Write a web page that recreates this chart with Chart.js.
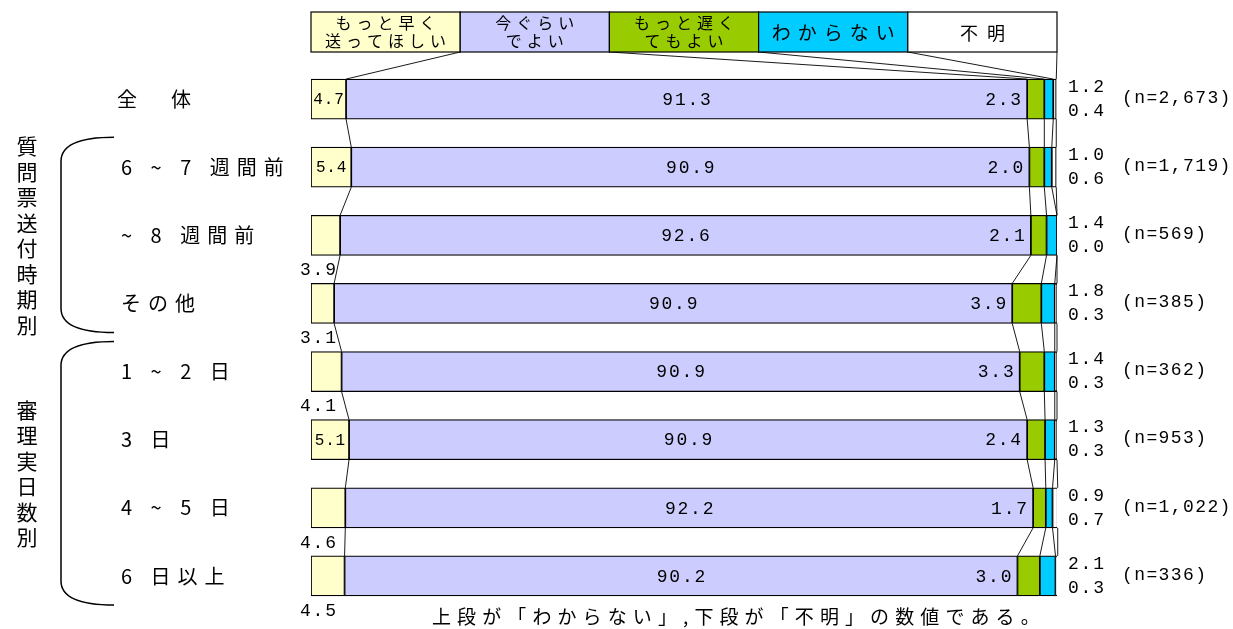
<!DOCTYPE html>
<html lang="ja">
<head>
<meta charset="UTF-8">
<title>送付時期の希望</title>
<script src="https://cdn.jsdelivr.net/npm/chart.js"></script>
<style>
  html, body { margin: 0; padding: 0; background: #fff; }
  #wrap { width: 1233px; height: 629px; }
</style>
</head>
<body>
<div id="wrap"><canvas id="chart" width="1233" height="629"></canvas></div>
<script>
// データ
const categories = ['全　体', '6 ~ 7 週間前', '~ 8 週間前', 'その他', '1 ~ 2 日', '3 日', '4 ~ 5 日', '6 日以上'];
const seriesNames = ['もっと早く送ってほしい', '今ぐらいでよい', 'もっと遅くてもよい', 'わからない', '不明'];
const legendLines = [['もっと早く', '送ってほしい'], ['今ぐらい', 'でよい'], ['もっと遅く', 'てもよい'], ['わからない'], ['不明']];
const earlier  = [4.7, 5.4, 3.9, 3.1, 4.1, 5.1, 4.6, 4.5];
const asIs     = [91.3, 90.9, 92.6, 90.9, 90.9, 90.9, 92.2, 90.2];
const later    = [2.3, 2.0, 2.1, 3.9, 3.3, 2.4, 1.7, 3.0];
const unknown  = [1.2, 1.0, 1.4, 1.8, 1.4, 1.3, 0.9, 2.1];
const noAnswer = [0.4, 0.6, 0.0, 0.3, 0.3, 0.3, 0.7, 0.3];
const sampleSizes = ['2,673', '1,719', '569', '385', '362', '953', '1,022', '336'];
const groups = [
  { label: '質問票送付時期別', from: 1, to: 3 },
  { label: '審理実日数別', from: 4, to: 7 }
];
const note = '上段が「わからない」,下段が「不明」の数値である。';

const colors = ['#FFFFCC', '#CCCCFF', '#99CC00', '#00CCFF', '#FFFFFF'];
const JP = '"Noto Sans CJK JP", "Noto Sans", sans-serif';
const NUM = '"Liberation Mono", "DejaVu Sans Mono", monospace';

// 文字間隔つきで描く (align は見た目の幅で計算)
function txt(ctx, s, x, y, font, sp, align) {
  ctx.save();
  ctx.font = font;
  ctx.letterSpacing = '0px';
  const w = ctx.measureText(s).width + ([...s].length - 1) * sp;
  ctx.letterSpacing = sp + 'px';
  ctx.textAlign = 'left';
  ctx.textBaseline = 'middle';
  ctx.fillStyle = '#000';
  let left = x;
  if (align === 'center') left = x - w / 2;
  else if (align === 'right') left = x - w;
  ctx.fillText(s, left, y);
  ctx.restore();
}

const decor = {
  id: 'decor',
  beforeDatasetsDraw(chart) {
    const ctx = chart.ctx;
    const area = chart.chartArea;
    const metas = chart.data.datasets.map((d, i) => chart.getDatasetMeta(i));
    ctx.save();
    ctx.strokeStyle = '#000';
    ctx.lineWidth = 0.9;
    // 凡例から最初の棒へ
    const boxW = (area.right - area.left) / 5;
    const bar0 = metas[0].data[0];
    metas.forEach((m, i) => {
      ctx.beginPath();
      ctx.moveTo(area.left + boxW * (i + 1), 52);
      ctx.lineTo(m.data[0].x, bar0.y - bar0.height / 2);
      ctx.stroke();
    });
    // 棒どうしの区分線
    for (let j = 0; j < categories.length - 1; j++) {
      metas.forEach(m => {
        const a = m.data[j], b = m.data[j + 1];
        ctx.beginPath();
        ctx.moveTo(a.x, a.y + a.height / 2);
        ctx.lineTo(b.x, b.y - b.height / 2);
        ctx.stroke();
      });
    }
    ctx.restore();
  },
  afterDatasetsDraw(chart) {
    const ctx = chart.ctx;
    const area = chart.chartArea;
    const yScale = chart.scales.y;
    const metas = chart.data.datasets.map((d, i) => chart.getDatasetMeta(i));

    // 凡例
    const boxW = (area.right - area.left) / 5;
    legendLines.forEach((lines, i) => {
      const x0 = area.left + boxW * i;
      ctx.fillStyle = colors[i];
      ctx.fillRect(x0, 12, boxW, 40);
      ctx.strokeStyle = '#000';
      ctx.lineWidth = 1.2;
      ctx.strokeRect(x0, 12, boxW, 40);
      const cx = x0 + boxW / 2;
      if (lines.length === 2) {
        txt(ctx, lines[0], cx, 23, '16px ' + JP, 5, 'center');
        txt(ctx, lines[1], cx, 41, '16px ' + JP, 5, 'center');
      } else if (i === 3) {
        txt(ctx, lines[0], cx, 33, '19px ' + JP, 7, 'center');
      } else {
        txt(ctx, lines[0], cx, 33, '18px ' + JP, 9, 'center');
      }
    });

    // 値ラベル
    categories.forEach((c, j) => {
      const e0 = metas[0].data[j], e1 = metas[1].data[j];
      const yc = e0.y, half = e0.height / 2;
      if (earlier[j] >= 4.7) {
        txt(ctx, earlier[j].toFixed(1), (e0.base + e0.x) / 2, yc + 1, '16px ' + NUM, 0.8, 'center');
      } else {
        txt(ctx, earlier[j].toFixed(1), area.left + 7, yc + half + 15, '18px ' + NUM, 1.8, 'center');
      }
      txt(ctx, asIs[j].toFixed(1), (e1.base + e1.x) / 2, yc + 1, '18px ' + NUM, 1.8, 'center');
      txt(ctx, later[j].toFixed(1), e1.x - 6, yc + 1, '18px ' + NUM, 1.8, 'right');
      txt(ctx, unknown[j].toFixed(1), area.right + 11, yc - 12, '18px ' + NUM, 1.8, 'left');
      txt(ctx, noAnswer[j].toFixed(1), area.right + 11, yc + 12, '18px ' + NUM, 1.8, 'left');
      txt(ctx, '(n=' + sampleSizes[j] + ')', area.right + 65, yc - 1, '18px ' + NUM, 1.4, 'left');
      // 項目名
      txt(ctx, c, j === 0 ? 117 : 121, yc, '20px ' + JP, 7, 'left');
    });

    // グループ名と括弧
    ctx.save();
    ctx.strokeStyle = '#000';
    ctx.lineWidth = 1.5;
    groups.forEach(g => {
      const yTop = yScale.getPixelForValue(g.from);
      const yBot = yScale.getPixelForValue(g.to);
      const mid = (yTop + yBot) / 2;
      const chars = [...g.label];
      chars.forEach((ch, k) => {
        txt(ctx, ch, 27, mid + (k - (chars.length - 1) / 2) * 25.5, '21px ' + JP, 0, 'center');
      });
      const t = yTop - 30, b = yBot + 29, xl = 61, xr = 114;
      ctx.beginPath();
      ctx.moveTo(xr, t);
      ctx.quadraticCurveTo(xl, t, xl, t + 24);
      ctx.lineTo(xl, b - 24);
      ctx.quadraticCurveTo(xl, b, xr, b);
      ctx.stroke();
    });
    ctx.restore();

    // 注記
    txt(ctx, note, 432, 617, '19px ' + JP, 6.1, 'left');
  }
};

const datasets = [earlier, asIs, later, unknown, noAnswer].map((d, i) => ({
  label: seriesNames[i],
  data: d,
  backgroundColor: colors[i],
  borderColor: '#000',
  borderWidth: 1.2,
  borderSkipped: false,
  barThickness: 40
}));

new Chart(document.getElementById('chart'), {
  type: 'bar',
  data: { labels: categories, datasets: datasets },
  options: {
    indexAxis: 'y',
    responsive: false,
    animation: false,
    devicePixelRatio: 1,
    layout: { padding: { left: 311, right: 176, top: 65, bottom: 19 } },
    scales: {
      x: { stacked: true, min: 0, max: 100, display: false },
      y: { stacked: true, display: false }
    },
    plugins: { legend: { display: false }, tooltip: { enabled: false } }
  },
  plugins: [decor]
});
</script>
</body>
</html>
